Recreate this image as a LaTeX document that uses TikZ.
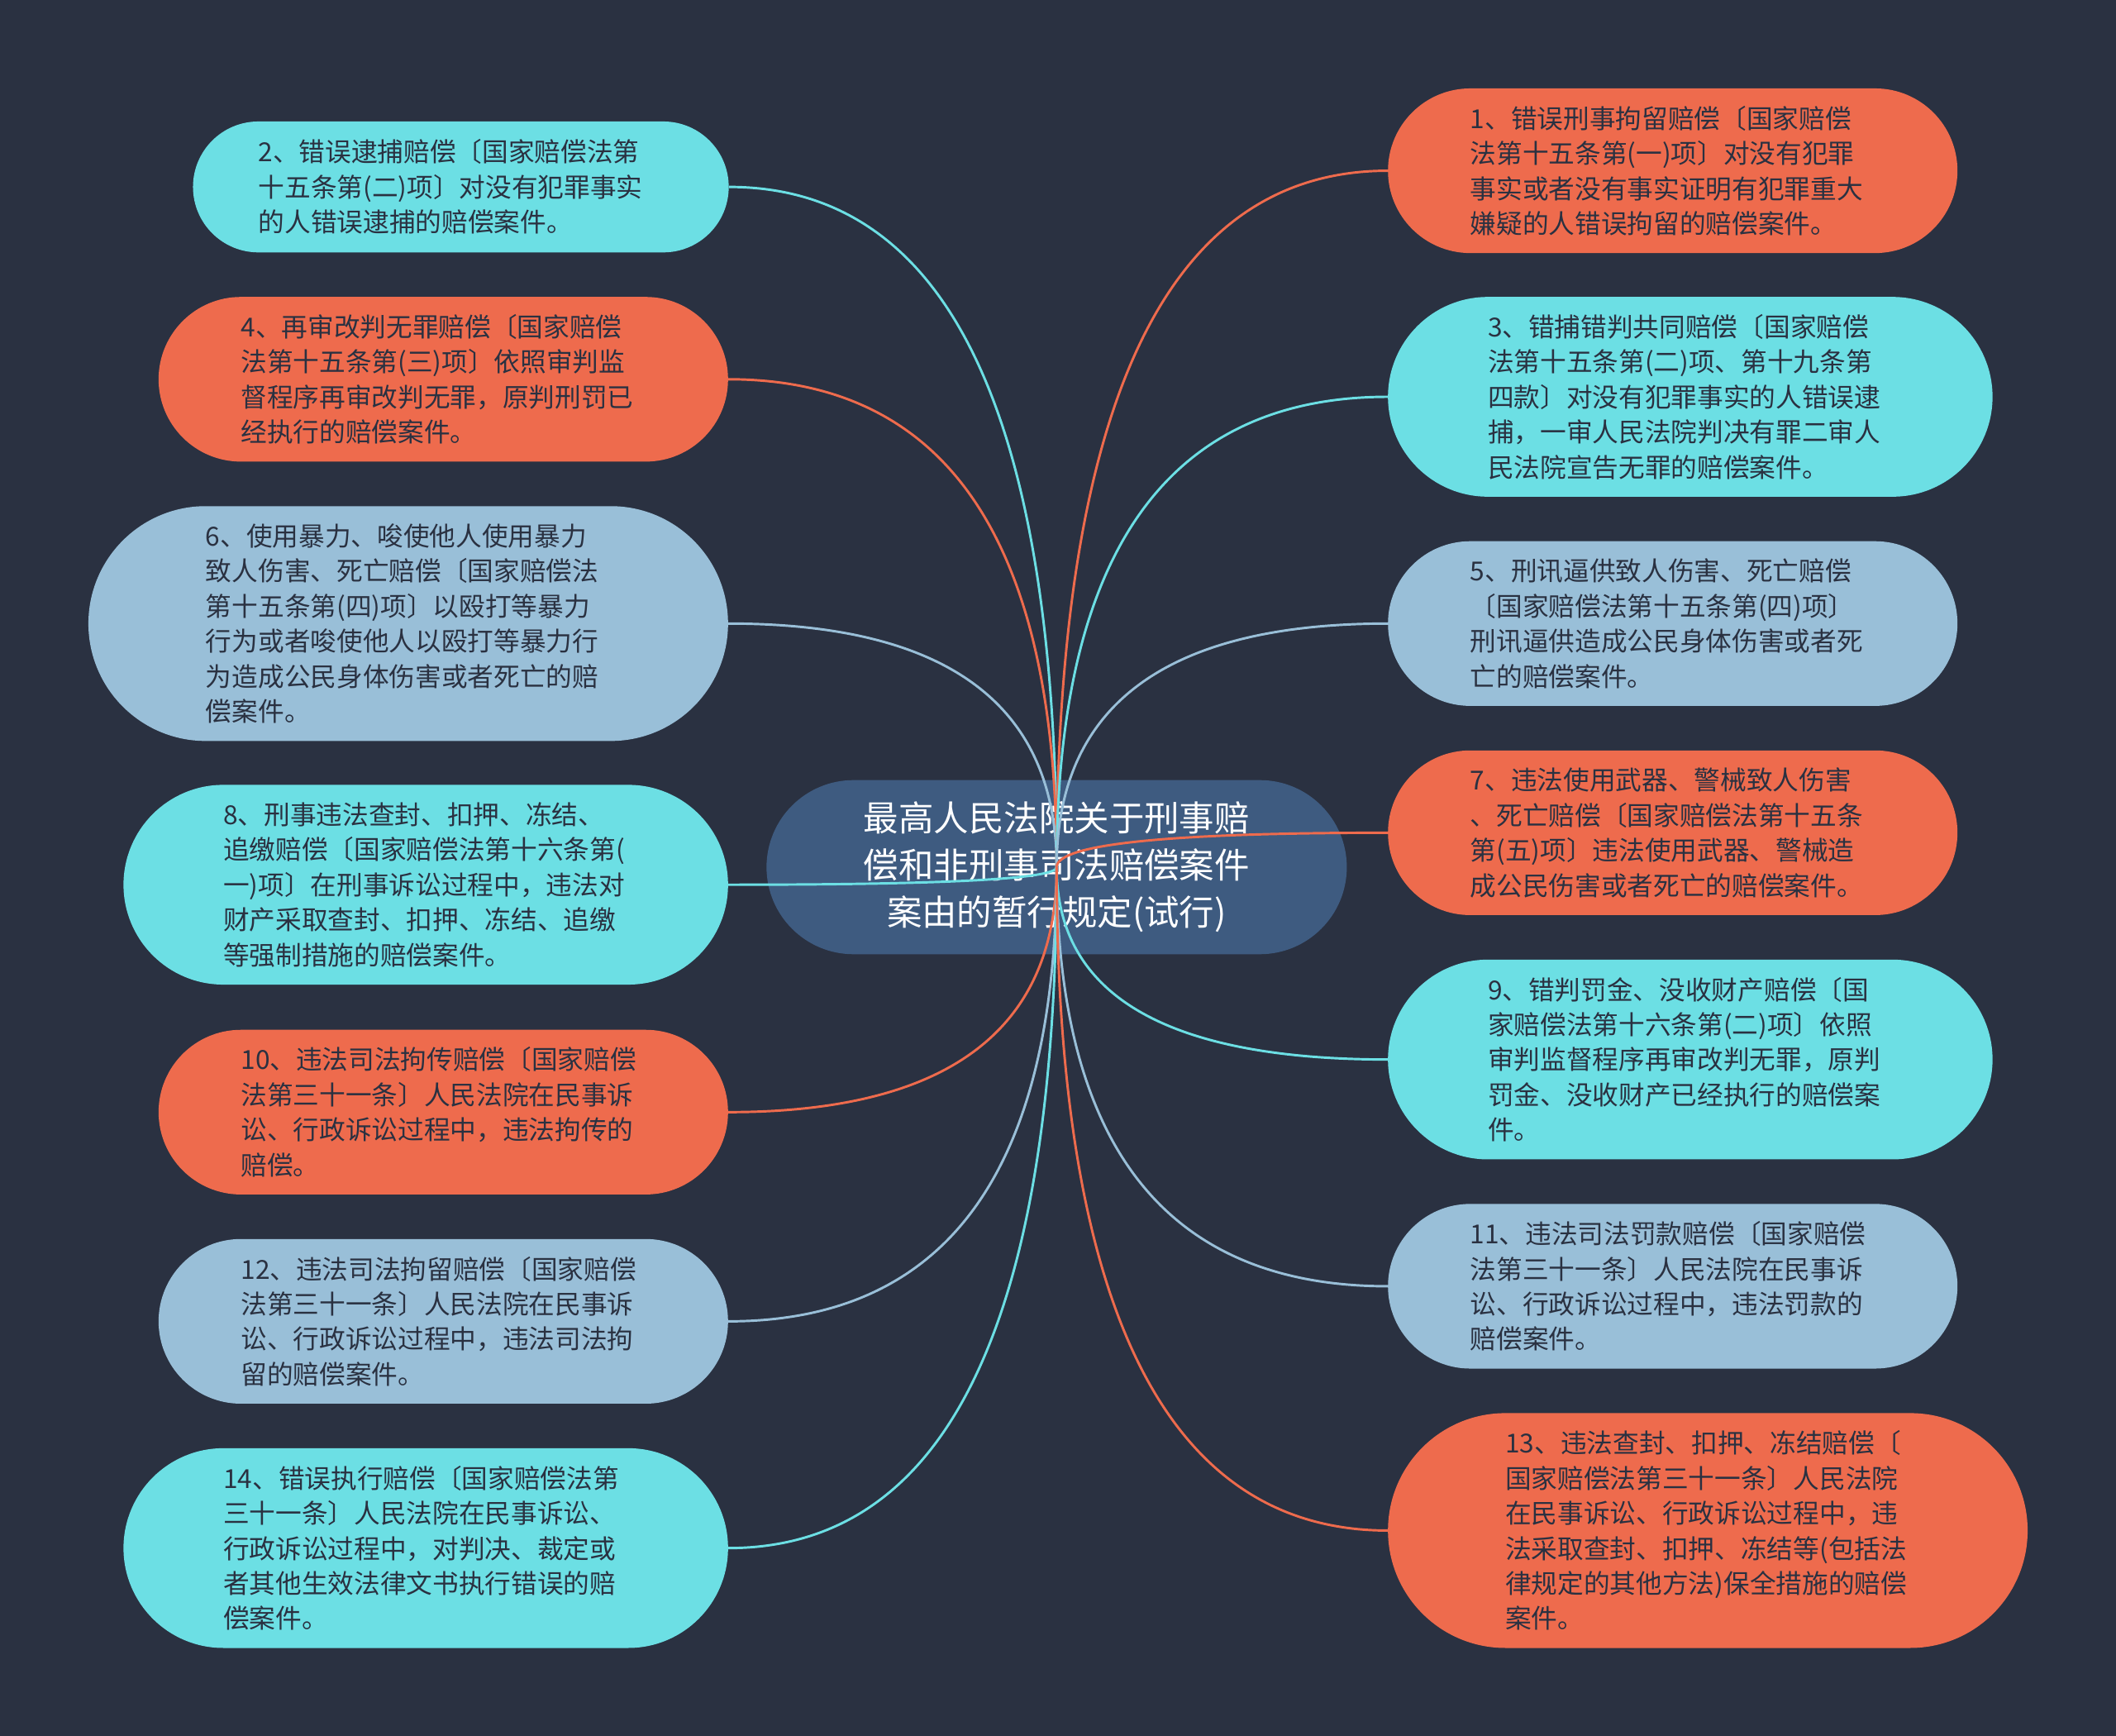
\documentclass[tikz,border=0pt]{standalone}
\usepackage{fontspec}
\setmainfont{Noto Sans CJK SC}
\usetikzlibrary{positioning,calc}

\definecolor{bgnavy}{HTML}{2A3141}
\definecolor{rootblue}{HTML}{3E5B80}
\definecolor{tealleaf}{HTML}{6CDFE4}
\definecolor{coralleaf}{HTML}{EE6B4D}
\definecolor{skyleaf}{HTML}{99BFD8}
\definecolor{inkdark}{HTML}{2A3141}

\newcommand{\leaffont}{\fontsize{19.4}{26}\selectfont}
\newcommand{\rootfont}{\fontsize{26}{35}\selectfont}

\begin{document}
\begin{tikzpicture}[x=1pt, y=-1pt,
  leaf/.style={text=inkdark, font=\leaffont, align=left, text width=300pt, inner ysep=0pt},
  rows3/.style={minimum height=97pt, inner xsep=48.5pt, rounded corners=48.5pt},
  rows4/.style={minimum height=122pt, inner xsep=61pt, rounded corners=61pt},
  rows5/.style={minimum height=148pt, inner xsep=74pt, rounded corners=74pt},
  rows6/.style={minimum height=174pt, inner xsep=87pt, rounded corners=87pt},
  wire/.style={line width=1.8pt, to path={.. controls ($(\tikztostart)!.667!(\tikztostart |- \tikztotarget)$) and ($(\tikztotarget)!.667!(\tikztostart |- \tikztotarget)$) .. (\tikztotarget)}}]

\fill[bgnavy] (0,0) rectangle (1568,1286);

\node[fill=rootblue, text=white, font=\rootfont, align=center, minimum width=430pt, minimum height=129pt, rounded corners=64.5pt, inner sep=0pt] (root) at (783,642.5) {最高人民法院关于刑事赔\\偿和非刑事司法赔偿案件\\案由的暂行规定(试行)};

% left side
\node[leaf, rows3, fill=tealleaf] (n2) at (341.5,138.5) {2、错误逮捕赔偿〔国家赔偿法第\\十五条第(二)项〕对没有犯罪事实\\的人错误逮捕的赔偿案件。};
\node[leaf, rows4, fill=coralleaf] (n4) at (328.5,281) {4、再审改判无罪赔偿〔国家赔偿\\法第十五条第(三)项〕依照审判监\\督程序再审改判无罪，原判刑罚已\\经执行的赔偿案件。};
\node[leaf, rows6, fill=skyleaf] (n6) at (302.5,462) {6、使用暴力、唆使他人使用暴力\\致人伤害、死亡赔偿〔国家赔偿法\\第十五条第(四)项〕以殴打等暴力\\行为或者唆使他人以殴打等暴力行\\为造成公民身体伤害或者死亡的赔\\偿案件。};
\node[leaf, rows5, fill=tealleaf] (n8) at (315.5,655.5) {8、刑事违法查封、扣押、冻结、\\追缴赔偿〔国家赔偿法第十六条第(\\一)项〕在刑事诉讼过程中，违法对\\财产采取查封、扣押、冻结、追缴\\等强制措施的赔偿案件。};
\node[leaf, rows4, fill=coralleaf] (n10) at (328.5,824) {10、违法司法拘传赔偿〔国家赔偿\\法第三十一条〕人民法院在民事诉\\讼、行政诉讼过程中，违法拘传的\\赔偿。};
\node[leaf, rows4, fill=skyleaf] (n12) at (328.5,979) {12、违法司法拘留赔偿〔国家赔偿\\法第三十一条〕人民法院在民事诉\\讼、行政诉讼过程中，违法司法拘\\留的赔偿案件。};
\node[leaf, rows5, fill=tealleaf] (n14) at (315.5,1147) {14、错误执行赔偿〔国家赔偿法第\\三十一条〕人民法院在民事诉讼、\\行政诉讼过程中，对判决、裁定或\\者其他生效法律文书执行错误的赔\\偿案件。};

% right side
\node[leaf, rows4, fill=coralleaf] (n1) at (1239.5,126.5) {1、错误刑事拘留赔偿〔国家赔偿\\法第十五条第(一)项〕对没有犯罪\\事实或者没有事实证明有犯罪重大\\嫌疑的人错误拘留的赔偿案件。};
\node[leaf, rows5, fill=tealleaf] (n3) at (1252.5,294) {3、错捕错判共同赔偿〔国家赔偿\\法第十五条第(二)项、第十九条第\\四款〕对没有犯罪事实的人错误逮\\捕，一审人民法院判决有罪二审人\\民法院宣告无罪的赔偿案件。};
\node[leaf, rows4, fill=skyleaf] (n5) at (1239.5,462) {5、刑讯逼供致人伤害、死亡赔偿\\〔国家赔偿法第十五条第(四)项〕\\刑讯逼供造成公民身体伤害或者死\\亡的赔偿案件。};
\node[leaf, rows4, fill=coralleaf] (n7) at (1239.5,617) {7、违法使用武器、警械致人伤害\\、死亡赔偿〔国家赔偿法第十五条\\第(五)项〕违法使用武器、警械造\\成公民伤害或者死亡的赔偿案件。};
\node[leaf, rows5, fill=tealleaf] (n9) at (1252.5,785) {9、错判罚金、没收财产赔偿〔国\\家赔偿法第十六条第(二)项〕依照\\审判监督程序再审改判无罪，原判\\罚金、没收财产已经执行的赔偿案\\件。};
\node[leaf, rows4, fill=skyleaf] (n11) at (1239.5,953) {11、违法司法罚款赔偿〔国家赔偿\\法第三十一条〕人民法院在民事诉\\讼、行政诉讼过程中，违法罚款的\\赔偿案件。};
\node[leaf, rows6, fill=coralleaf] (n13) at (1265.5,1134) {13、违法查封、扣押、冻结赔偿〔\\国家赔偿法第三十一条〕人民法院\\在民事诉讼、行政诉讼过程中，违\\法采取查封、扣押、冻结等(包括法\\律规定的其他方法)保全措施的赔偿\\案件。};

\draw[wire, tealleaf] (root.center) to (n2.east);
\draw[wire, coralleaf] (root.center) to (n4.east);
\draw[wire, skyleaf] (root.center) to (n6.east);
\draw[wire, tealleaf] (root.center) to (n8.east);
\draw[wire, coralleaf] (root.center) to (n10.east);
\draw[wire, skyleaf] (root.center) to (n12.east);
\draw[wire, tealleaf] (root.center) to (n14.east);
\draw[wire, coralleaf] (root.center) to (n1.west);
\draw[wire, tealleaf] (root.center) to (n3.west);
\draw[wire, skyleaf] (root.center) to (n5.west);
\draw[wire, coralleaf] (root.center) to (n7.west);
\draw[wire, tealleaf] (root.center) to (n9.west);
\draw[wire, skyleaf] (root.center) to (n11.west);
\draw[wire, coralleaf] (root.center) to (n13.west);
\end{tikzpicture}
\end{document}
